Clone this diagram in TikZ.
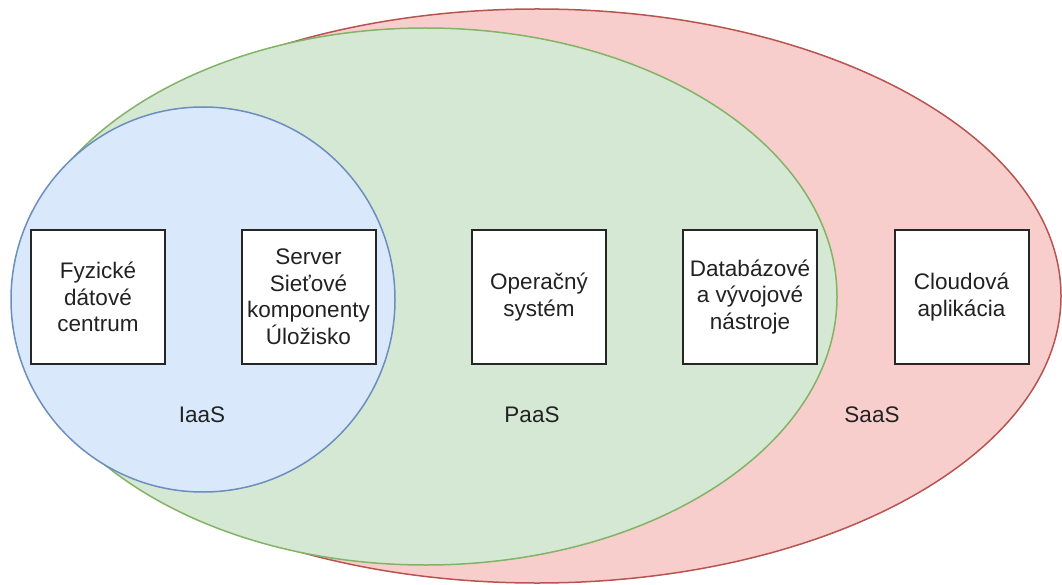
\documentclass[tikz,border=0pt]{standalone}
\usepackage{fontspec}
\setmainfont{Liberation Sans}
\usetikzlibrary{shapes.geometric}
\definecolor{saasfill}{HTML}{F8CECC}
\definecolor{saasdraw}{HTML}{B85450}
\definecolor{paasfill}{HTML}{D5E8D4}
\definecolor{paasdraw}{HTML}{82B366}
\definecolor{iaasfill}{HTML}{DAE8FC}
\definecolor{iaasdraw}{HTML}{6C8EBF}
\definecolor{txt}{HTML}{222222}
\tikzset{
  layer/.style={ellipse, inner sep=0pt, outer sep=0pt, line width=1.5pt},
  item/.style={rectangle, draw=black!85, line width=2pt, fill=white,
    minimum width=134pt, minimum height=133pt, inner sep=2pt,
    align=center, text=txt, font=\fontsize{22.5}{26.5}\selectfont},
  tag/.style={text=txt, font=\fontsize{22.5}{26.5}\selectfont, inner sep=0pt}
}
\begin{document}
\begin{tikzpicture}[x=1pt,y=-1pt]
\useasboundingbox (0,0) rectangle (1062,585);
\node[layer, draw=saasdraw, fill=saasfill, minimum width=1048pt, minimum height=574pt] (saas) at (537,296) {};
\node[layer, draw=paasdraw, fill=paasfill, minimum width=823pt, minimum height=537pt] (paas) at (425.5,296.5) {};
\node[layer, draw=iaasdraw, fill=iaasfill, minimum width=384pt, minimum height=385pt] (iaas) at (203,299.5) {};
\node[item] (b1) at (98,297) {Fyzické\\dátové\\centrum};
\node[item] (b2) at (308.5,297) {Server\\Sieťové\\komponenty\\Úložisko};
\node[item] (b3) at (539,297) {Operačný\\systém};
\node[item] (b4) at (750,297) {Databázové\\a vývojové\\nástroje};
\node[item] (b5) at (961.5,297) {Cloudová\\aplikácia};
\node[tag] (l1) at (202,415) {IaaS};
\node[tag] (l2) at (532,415) {PaaS};
\node[tag] (l3) at (872,415) {SaaS};
\end{tikzpicture}
\end{document}
